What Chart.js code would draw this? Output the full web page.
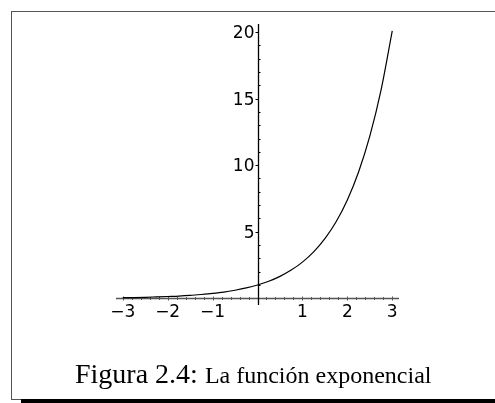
<!DOCTYPE html>
<html>
<head>
<meta charset="utf-8">
<script src="https://cdn.jsdelivr.net/npm/chart.js@4.4.1/dist/chart.umd.min.js"></script>
<style>
    body { margin: 0; background: #fff; width: 495px; height: 403px; overflow: hidden; position: relative; }
    #frame { position: absolute; left: 11px; top: 11px; width: 490px; height: 387px;
             border: 1px solid #555; border-right: none; }
    #shadow { position: absolute; left: 21px; top: 399px; width: 480px; height: 5px; background: #000; }
    #plot { position: absolute; left: 0; top: 0; }
    #caption { position: absolute; left: 75px; top: 360px; font-family: "Liberation Serif", "Times New Roman", serif;
               font-size: 28px; line-height: 28px; white-space: nowrap; color: #000; }
    #caption span { font-size: 24px; }
</style>
</head>
<body>
<div id="frame"></div>
<div id="shadow"></div>
<canvas id="plot" width="495" height="403"></canvas>
<div id="caption">Figura 2.4: <span>La función exponencial</span></div>
<script>
// y = e^x sampled along the curve
const xs = [-3, -2.75, -2.5, -2.25, -2, -1.75, -1.5, -1.25, -1, -0.75, -0.5, -0.25, 0,
            0.25, 0.5, 0.75, 1, 1.25, 1.5, 1.75, 2, 2.25, 2.5, 2.75, 3];
const ys = [0.05, 0.06, 0.08, 0.11, 0.14, 0.17, 0.22, 0.29, 0.37, 0.47, 0.61, 0.78, 1.0,
            1.28, 1.65, 2.12, 2.72, 3.49, 4.48, 5.75, 7.39, 9.49, 12.18, 15.64, 20.09];

const xTicks = [-3, -2, -1, 1, 2, 3];
const yTicks = [5, 10, 15, 20];
const xMinorStep = 0.2;
const yMinorStep = 1;

const crisp = v => Math.round(v) + 0.5;

// axes crossing at the origin, Maple style
const originAxes = {
    id: 'originAxes',
    beforeDatasetsDraw(chart) {
        const { ctx, scales: { x, y } } = chart;
        const x0 = crisp(x.getPixelForValue(0));
        const y0 = crisp(y.getPixelForValue(0));
        ctx.save();

        // horizontal axis
        ctx.strokeStyle = '#555';
        ctx.lineWidth = 1.3;
        ctx.beginPath();
        ctx.moveTo(x.left, y0);
        ctx.lineTo(x.right, y0);
        ctx.stroke();

        ctx.lineWidth = 1;
        ctx.beginPath();
        for (let i = -15; i <= 15; i++) {
            const px = crisp(x.getPixelForValue(i * xMinorStep));
            const len = i % 5 === 0 ? 2 : 1.5;
            ctx.moveTo(px, y0 - len);
            ctx.lineTo(px, y0 + len);
        }
        ctx.stroke();

        // vertical axis
        ctx.strokeStyle = '#000';
        ctx.lineWidth = 1.3;
        ctx.beginPath();
        ctx.moveTo(x0, y.top);
        ctx.lineTo(x0, y.bottom);
        ctx.stroke();

        ctx.lineWidth = 1;
        ctx.beginPath();
        for (let v = yMinorStep; v <= 20; v += yMinorStep) {
            const py = crisp(y.getPixelForValue(v));
            if (v % 5 === 0) {
                ctx.moveTo(x0 - 3, py);
                ctx.lineTo(x0, py);
            } else {
                ctx.moveTo(x0, py);
                ctx.lineTo(x0 + 2, py);
            }
        }
        ctx.stroke();

        // tick labels
        ctx.fillStyle = '#000';
        ctx.font = '17px "DejaVu Sans"';
        ctx.textBaseline = 'alphabetic';
        ctx.textAlign = 'center';
        xTicks.forEach(v => {
            const label = v < 0 ? '\u2212' + Math.abs(v) : String(v);
            ctx.fillText(label, x.getPixelForValue(v), y0 + 18);
        });
        ctx.textAlign = 'right';
        yTicks.forEach(v => {
            ctx.fillText(String(v), x0 - 4, y.getPixelForValue(v) + 6);
        });
        ctx.restore();
    }
};

new Chart(document.getElementById('plot').getContext('2d'), {
    type: 'line',
    data: {
        datasets: [{
            data: xs.map((v, i) => ({ x: v, y: ys[i] })),
            borderColor: '#000',
            borderWidth: 1.2,
            pointRadius: 0,
            cubicInterpolationMode: 'monotone',
            fill: false
        }]
    },
    options: {
        responsive: false,
        animation: false,
        devicePixelRatio: 1,
        layout: { padding: { left: 116, right: 96, top: 24, bottom: 98 } },
        scales: {
            x: { type: 'linear', min: -3.15, max: 3.15, display: false },
            y: { type: 'linear', min: -0.5, max: 20.6, display: false }
        },
        plugins: { legend: { display: false }, tooltip: { enabled: false } }
    },
    plugins: [originAxes]
});
</script>
</body>
</html>
